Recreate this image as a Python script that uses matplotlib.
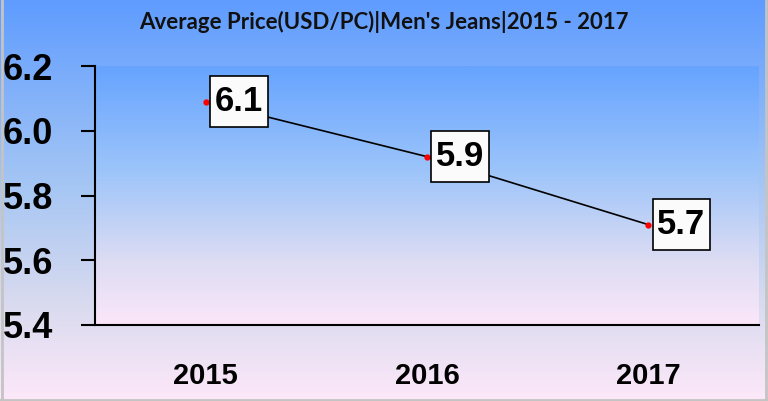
import numpy as np
import matplotlib.pyplot as plt
from matplotlib.colors import LinearSegmentedColormap

years = ['2015', '2016', '2017']
prices = [6.09, 5.92, 5.71]
labels = ['6.1', '5.9', '5.7']
yticks = [5.4, 5.6, 5.8, 6.0, 6.2]
title = "Average Price(USD/PC)|Men's Jeans|2015 - 2017"

fam = ['Liberation Sans', 'DejaVu Sans']

fig = plt.figure(figsize=(7.68, 4.01), dpi=100)

# background gradient for the whole picture
bg = fig.add_axes([0, 0, 1, 1], zorder=-10)
cmap_bg = LinearSegmentedColormap.from_list(
    'bg', [(0.0, '#5f9cff'), (0.45, '#a3c5f4'), (0.75, '#d8daef'), (1.0, '#fde8f9')])
bg.imshow(np.linspace(0, 1, 256).reshape(-1, 1), aspect='auto', cmap=cmap_bg,
          extent=[0, 1, 1, 0])
bg.set_xlim(0, 1)
bg.set_ylim(1, 0)
bg.axis('off')
bg.plot([0.002, 0.002], [0, 1], color='#c4c4c4', lw=2)
bg.plot([0.998, 0.998], [0, 1], color='#c4c4c4', lw=2)
bg.plot([0, 1], [0.997, 0.997], color='#c4c4c4', lw=2)

ax = fig.add_axes([95 / 768, 1 - 325 / 401, 664 / 768, 259 / 401])
cmap_ax = LinearSegmentedColormap.from_list(
    'ax', [(0.0, '#66a4ff'), (0.4, '#9cc4fa'), (0.75, '#dcdcf3'), (1.0, '#fbe7f9')])
ax.imshow(np.linspace(0, 1, 256).reshape(-1, 1), aspect='auto', cmap=cmap_ax,
          extent=[-0.5, 2.5, 5.4, 6.2], zorder=0)

x = np.arange(len(years))
ax.plot(x, prices, color='black', lw=1.2, marker='o', ms=3.5,
        mfc='red', mec='red', zorder=3)

for xi, yi, lab in zip(x, prices, labels):
    ax.annotate(lab, (xi, yi), xytext=(6.5, 0), textcoords='offset points',
                ha='left', va='center', fontsize=25, fontweight='bold',
                family=fam, zorder=5,
                bbox=dict(boxstyle='square,pad=0.14', mutation_aspect=1.9,
                          fc='#fbfbfb', ec='black', lw=1.2))

ax.set_xlim(-0.5, 2.5)
ax.set_ylim(5.4, 6.2)
ax.set_xticks(x)
ax.set_xticklabels(years, fontsize=21, fontweight='bold', family=fam)
ax.set_yticks(yticks)
ax.set_yticklabels(['%.1f' % v for v in yticks], fontsize=26, fontweight='bold', family=fam)
ax.tick_params(axis='x', length=0, pad=27)
ax.tick_params(axis='y', length=10, width=1.5, pad=20)
ax.spines['top'].set_visible(False)
ax.spines['right'].set_visible(False)
ax.spines['left'].set_linewidth(1.5)
ax.spines['bottom'].set_linewidth(1.5)

fig.text(0.5, 1 - 22 / 401, title, ha='center', va='center', fontsize=16,
         family=['Lato', 'DejaVu Sans'], fontweight='bold', color='#111111')

fig.savefig('out.png', dpi=100)
